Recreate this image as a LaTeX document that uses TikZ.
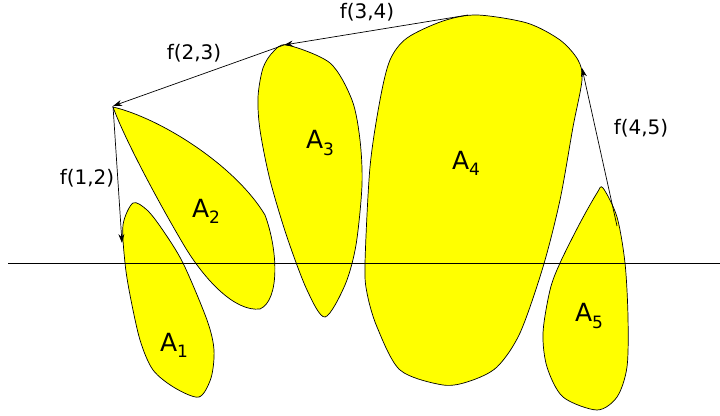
\documentclass[tikz,border=0pt]{standalone}
\usepackage{fontspec}
\setmainfont{DejaVu Sans}
\usetikzlibrary{arrows.meta}
\definecolor{setfill}{RGB}{255,255,0}
\newcommand{\setidx}[1]{\raisebox{-0.45ex}{\fontsize{17}{17}\selectfont #1}}
\tikzset{
  blob/.style={fill=setfill, draw=black, line width=0.7pt},
  arealab/.style={font=\fontsize{25}{25}\selectfont, inner sep=0pt},
  fnlab/.style={font=\fontsize{20}{20}\selectfont, inner sep=0pt},
  flow/.style={line width=0.7pt, -{Stealth[length=9pt,width=6pt]}}
}
\begin{document}
\begin{tikzpicture}[x=1pt,y=-1pt]
  \useasboundingbox (0,0) rectangle (720,415);

  % the five sets
  \filldraw[blob] plot[smooth cycle] coordinates {(133,203) (147,210) (162,229) (183,263) (207,320) (214,350) (211,378) (199,397) (175,388) (153,370) (140,340) (130,295) (125,263) (123,225)};
  \filldraw[blob] (113,107) .. controls (160,118) and (235,165) .. (265,215)
        .. controls (278,250) and (280,300) .. (260,309)
        .. controls (235,312) and (205,280) .. (185,247)
        .. controls (160,205) and (125,140) .. cycle;
  \filldraw[blob] plot[smooth cycle] coordinates {(287,45) (330,63) (352,100) (360,140) (362,185) (356,245) (345,285) (325,317) (307,290) (287,237) (270,180) (260,130) (258,97) (263,68) (273,52)};
  \filldraw[blob] plot[smooth cycle] coordinates {(477,15) (527,23) (560,40) (578,60) (582,80) (573,127) (560,200) (543,267) (520,333) (497,367) (470,381) (443,385) (400,370) (377,327) (367,293) (365,263) (370,167) (380,100) (390,60) (407,38) (443,21)};
  \filldraw[blob] plot[smooth cycle] coordinates {(603,188) (617,217) (625,263) (628,317) (627,367) (617,397) (597,410) (563,397) (547,367) (543,333) (550,290) (560,263) (580,223) (597,193)};

  % axis
  \coordinate (axl) at (8,263);
  \coordinate (axr) at (720,263);
  \draw[line width=0.7pt] (axl) -- (axr);

  % set names
  \node[arealab] (a1) at (174,345) {A\setidx{1}};
  \node[arealab] (a2) at (206,211) {A\setidx{2}};
  \node[arealab] (a3) at (320,143) {A\setidx{3}};
  \node[arealab] (a4) at (466,163) {A\setidx{4}};
  \node[arealab] (a5) at (589,316) {A\setidx{5}};

  % ends of the maps
  \coordinate (p1) at (122,243);
  \coordinate (p2) at (113,106);
  \coordinate (p3) at (284,45);
  \coordinate (p4) at (468,15);
  \coordinate (q4) at (582,68);
  \coordinate (p5) at (617,226);

  \draw[flow] (p2) -- (p1);
  \draw[flow] (p3) -- (p2);
  \draw[flow] (p4) -- (p3);
  \draw[flow] (p5) -- (q4);

  \node[fnlab] (f12) at (87,178) {f(1,2)};
  \node[fnlab] (f23) at (194,53) {f(2,3)};
  \node[fnlab] (f34) at (367,12) {f(3,4)};
  \node[fnlab] (f45) at (641,128) {f(4,5)};
\end{tikzpicture}
\end{document}
